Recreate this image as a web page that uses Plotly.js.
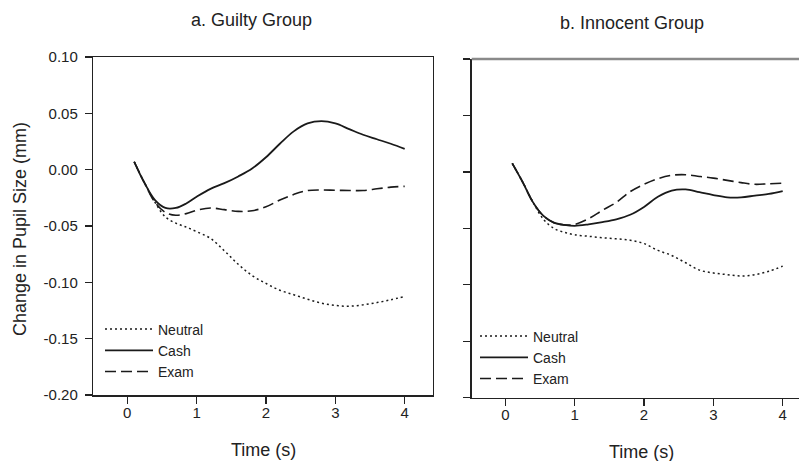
<!DOCTYPE html>
<html>
<head>
<meta charset="utf-8">
<script src="https://cdn.plot.ly/plotly-3.0.1.min.js"></script>
<style>html,body{margin:0;padding:0;background:#fff;}#chart{width:799px;height:461px;}</style>
</head>
<body>
<div id="chart"></div>
<script>
// Time points (s)
const time = [0.1, 0.25, 0.4, 0.55, 0.7, 0.85, 1.0, 1.2, 1.4, 1.6, 1.8, 2.0, 2.2, 2.4, 2.6, 2.8, 3.0, 3.2, 3.4, 3.6, 3.8, 4.0];

// a. Guilty Group
const guiltyNeutral = [0.007, -0.012, -0.029, -0.042, -0.0475, -0.051, -0.055, -0.061, -0.072, -0.084, -0.094, -0.101, -0.107, -0.111, -0.115, -0.1185, -0.1205, -0.1212, -0.120, -0.118, -0.1155, -0.1125];
const guiltyCash    = [0.007, -0.012, -0.027, -0.034, -0.034, -0.030, -0.024, -0.017, -0.012, -0.006, 0.001, 0.011, 0.023, 0.034, 0.041, 0.043, 0.041, 0.036, 0.031, 0.027, 0.023, 0.0185];
const guiltyExam    = [0.007, -0.012, -0.029, -0.038, -0.0405, -0.039, -0.036, -0.034, -0.0355, -0.037, -0.0365, -0.033, -0.027, -0.022, -0.0185, -0.018, -0.0183, -0.0185, -0.0185, -0.017, -0.0155, -0.0148];

// b. Innocent Group
const innocentNeutral = [0.0076, -0.009, -0.027, -0.042, -0.050, -0.0535, -0.0557, -0.057, -0.0583, -0.0593, -0.0605, -0.0635, -0.0695, -0.074, -0.0805, -0.087, -0.0895, -0.091, -0.0922, -0.091, -0.088, -0.0835];
const innocentCash    = [0.0076, -0.009, -0.027, -0.039, -0.045, -0.047, -0.0478, -0.0465, -0.0445, -0.042, -0.038, -0.031, -0.022, -0.0165, -0.0155, -0.018, -0.0205, -0.0225, -0.0225, -0.021, -0.0195, -0.017];
const innocentExam    = [0.0076, -0.009, -0.027, -0.039, -0.045, -0.047, -0.0465, -0.0415, -0.034, -0.027, -0.0175, -0.011, -0.006, -0.003, -0.0025, -0.004, -0.0055, -0.0075, -0.0095, -0.011, -0.0105, -0.010];

const seriesNames = ["Neutral", "Cash", "Exam"];
const xTickVals = [0, 1, 2, 3, 4];
const yTickVals = [-0.20, -0.15, -0.10, -0.05, 0.00, 0.05, 0.10];
const yTickText = ["-0.20", "-0.15", "-0.10", "-0.05", "0.00", "0.05", "0.10"];
const panelTitles = ["a. Guilty Group", "b. Innocent Group"];
const xTitle = "Time (s)";
const yTitle = "Change in Pupil Size (mm)";

const FONT = "Liberation Sans, Arial, Helvetica, sans-serif";
const INK = "#1a1a1a";
const dashes = ["2px,3px", "solid", "11px,5px"];
const widths = [1.5, 1.8, 1.6];

function mk(y, i, xa, ya, leg) {
  return {
    x: time, y: y, name: seriesNames[i], type: "scatter", mode: "lines",
    xaxis: xa, yaxis: ya, legend: leg,
    line: {color: INK, width: widths[i], dash: dashes[i], shape: "spline", smoothing: 1},
    hoverinfo: "x+y"
  };
}

const data = [
  mk(guiltyNeutral, 0, "x", "y", "legend"),
  mk(guiltyCash, 1, "x", "y", "legend"),
  mk(guiltyExam, 2, "x", "y", "legend"),
  mk(innocentNeutral, 0, "x2", "y2", "legend2"),
  mk(innocentCash, 1, "x2", "y2", "legend2"),
  mk(innocentExam, 2, "x2", "y2", "legend2")
];

const W = 799, H = 461;
const px = v => v / W;
const py = v => 1 - v / H;

const axBase = {
  showgrid: false, zeroline: false, showline: true, linecolor: "#222", linewidth: 1.5,
  ticks: "outside", ticklen: 7, tickwidth: 1.3, tickcolor: "#222",
  tickfont: {family: FONT, size: 15, color: "#222"}
};

const legendFont = {family: FONT, size: 14, color: "#222"};

const layout = {
  width: W, height: H,
  margin: {l: 0, r: 0, t: 0, b: 0},
  paper_bgcolor: "#fff", plot_bgcolor: "#fff",
  font: {family: FONT, color: "#222"},
  showlegend: true,
  xaxis: Object.assign({}, axBase, {domain: [px(93.3), px(432.7)], range: [-0.49, 4.404], tickvals: xTickVals, anchor: "y", mirror: true, ticklabelstandoff: -4}),
  yaxis: Object.assign({}, axBase, {domain: [1 - 395 / H, 1 - 57 / H], range: [-0.2, 0.1], tickvals: yTickVals, ticktext: yTickText, anchor: "x", mirror: true, ticklabelstandoff: 4}),
  xaxis2: Object.assign({}, axBase, {domain: [px(471.7), 1], range: [-0.485, 4.235], tickvals: xTickVals, anchor: "y2", ticklabelstandoff: -4}),
  yaxis2: Object.assign({}, axBase, {domain: [1 - 397.7 / H, 1 - 59 / H], range: [-0.2, 0.1], tickvals: yTickVals, showticklabels: false, anchor: "x2"}),
  shapes: [
    {type: "line", xref: "x2 domain", yref: "y2 domain", x0: 0, x1: 1, y0: 1, y1: 1, line: {color: "#8a8a8a", width: 2.5}}
  ],
  legend: {x: px(100), y: py(313.5), xanchor: "left", yanchor: "top", bgcolor: "rgba(0,0,0,0)", font: legendFont, itemwidth: 48, tracegroupgap: 0},
  legend2: {x: px(475), y: py(320.5), xanchor: "left", yanchor: "top", bgcolor: "rgba(0,0,0,0)", font: legendFont, itemwidth: 48, tracegroupgap: 0},
  annotations: [
    {text: panelTitles[0], x: px(251.5), y: py(20), xref: "paper", yref: "paper", xanchor: "center", yanchor: "middle", showarrow: false, font: {family: FONT, size: 18, color: "#222"}},
    {text: panelTitles[1], x: px(631.7), y: py(22.5), xref: "paper", yref: "paper", xanchor: "center", yanchor: "middle", showarrow: false, font: {family: FONT, size: 18, color: "#222"}},
    {text: xTitle, x: px(263), y: py(450), xref: "paper", yref: "paper", xanchor: "center", yanchor: "middle", showarrow: false, font: {family: FONT, size: 18, color: "#222"}},
    {text: xTitle, x: px(641.7), y: py(451.5), xref: "paper", yref: "paper", xanchor: "center", yanchor: "middle", showarrow: false, font: {family: FONT, size: 18, color: "#222"}},
    {text: yTitle, x: px(20), y: py(229), xref: "paper", yref: "paper", xanchor: "center", yanchor: "middle", textangle: -90, showarrow: false, font: {family: FONT, size: 18, color: "#222"}}
  ]
};

Plotly.newPlot("chart", data, layout, {displayModeBar: false, staticPlot: true});
</script>
</body>
</html>
